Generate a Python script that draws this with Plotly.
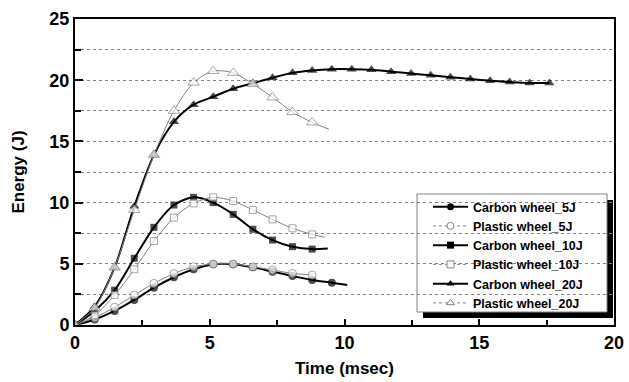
import plotly.graph_objects as go

# ---- data (time in msec, energy in J) ----
t_c5 = [0, 0.73, 1.47, 2.2, 2.93, 3.67, 4.4, 5.13, 5.87, 6.6, 7.33, 8.07, 8.8, 9.53, 10.1]
e_c5 = [0, 0.45, 1.15, 2.05, 3.05, 3.9, 4.55, 4.96, 4.96, 4.71, 4.36, 4.0, 3.68, 3.46, 3.27]

t_p5 = [0, 0.73, 1.47, 2.2, 2.93, 3.67, 4.4, 5.13, 5.87, 6.6, 7.33, 8.07, 8.8]
e_p5 = [0, 0.6, 1.45, 2.45, 3.4, 4.2, 4.76, 4.98, 4.98, 4.76, 4.49, 4.22, 4.08]

t_c10 = [0, 0.73, 1.47, 2.2, 2.93, 3.67, 4.4, 5.13, 5.87, 6.6, 7.33, 8.07, 8.8, 9.38]
e_c10 = [0, 1.15, 2.85, 5.45, 7.98, 9.8, 10.43, 10.0, 9.04, 7.82, 6.94, 6.4, 6.2, 6.25]

t_p10 = [0, 0.73, 1.47, 2.2, 2.93, 3.67, 4.4, 5.13, 5.87, 6.6, 7.33, 8.07, 8.8, 9.26]
e_p10 = [0, 0.8, 2.45, 4.55, 6.86, 8.77, 9.94, 10.43, 10.13, 9.4, 8.63, 7.9, 7.4, 7.16]

t_c20 = [0, 0.73, 1.47, 2.2, 2.93, 3.67, 4.4, 5.13, 5.87, 6.6, 7.33, 8.07, 8.8, 9.53,
         10.27, 11.0, 11.73, 12.47, 13.2, 13.93, 14.67, 15.4, 16.13, 16.87, 17.6]
e_c20 = [0, 1.5, 4.7, 9.7, 13.9, 16.6, 18.0, 18.65, 19.3, 19.75, 20.2, 20.6, 20.8, 20.9,
         20.9, 20.85, 20.7, 20.55, 20.4, 20.25, 20.1, 19.95, 19.85, 19.77, 19.77]

t_p20 = [0, 0.73, 1.47, 2.2, 2.93, 3.67, 4.4, 5.13, 5.87, 6.6, 7.33, 8.07, 8.8, 9.42]
e_p20 = [0, 1.4, 4.7, 9.4, 13.9, 17.5, 19.8, 20.75, 20.6, 19.7, 18.6, 17.4, 16.55, 16.0]

names = ["Carbon wheel_5J", "Plastic wheel_5J", "Carbon wheel_10J",
         "Plastic wheel_10J", "Carbon wheel_20J", "Plastic wheel_20J"]

x_ticks = [0, 5, 10, 15, 20]
y_ticks = [0, 5, 10, 15, 20, 25]

FONT = "Arial, 'Liberation Sans', sans-serif"
GRAY = "#808080"

# plot-area geometry in pixels (for converting the legend box to paper coords)
L, R, T, B = 75, 614, 19, 325
def px(x):
    return (x - L) / (R - L)
def py(y):
    return (B - y) / (B - T)

series = [
    (t_c5, e_c5, "circle", True, 8, [True] * 14 + [False]),
    (t_p5, e_p5, "circle", False, 8, [True] * 13),
    (t_c10, e_c10, "square", True, 7, [True] * 13 + [False]),
    (t_p10, e_p10, "square", False, 7, [True] * 13 + [False]),
    (t_c20, e_c20, "triangle-up", True, 9, [True] * 25),
    (t_p20, e_p20, "triangle-up", False, 10, [True] * 13 + [False]),
]

fig = go.Figure()

for (tx, ey, sym, carbon, ms, show), name in zip(series, names):
    sizes = [ms if s else 0 for s in show]
    if carbon:
        line = dict(color="black", width=2, shape="spline", smoothing=0.8)
        marker = dict(symbol=sym, size=sizes, color="black", line=dict(width=0))
    else:
        line = dict(color=GRAY, width=1, shape="spline", smoothing=0.8)
        marker = dict(symbol=sym, size=sizes, color="white", line=dict(color=GRAY, width=1))
    fig.add_trace(go.Scatter(x=tx, y=ey, mode="lines+markers", line=line,
                             marker=marker, showlegend=False, name=name))

# legend-only entries (carbon solid, plastic dotted)
for (tx, ey, sym, carbon, ms, show), name in zip(series, names):
    if carbon:
        line = dict(color="black", width=2)
        marker = dict(symbol=sym, size=7, color="black")
    else:
        line = dict(color=GRAY, width=1, dash="dot")
        marker = dict(symbol=sym, size=7, color="white", line=dict(color=GRAY, width=1))
    fig.add_trace(go.Scatter(x=[None], y=[None], mode="lines+markers", line=line,
                             marker=marker, name=name, showlegend=True))

fig.update_layout(
    width=629, height=382,
    margin=dict(l=L, r=629 - R, t=T, b=382 - B),
    paper_bgcolor="white", plot_bgcolor="white",
    font=dict(family=FONT, color="black"),
    showlegend=True,
    legend=dict(x=px(428), y=py(192), xanchor="left", yanchor="top",
                bgcolor="rgba(0,0,0,0)", borderwidth=0,
                font=dict(family=FONT, size=12.5, color="black", weight="bold"),
                tracegroupgap=0, itemwidth=35),
    shapes=[
        dict(type="rect", xref="paper", yref="paper",
             x0=px(423), x1=px(613), y0=py(318), y1=py(200),
             fillcolor="black", line=dict(width=0), layer="between"),
        dict(type="rect", xref="paper", yref="paper",
             x0=px(417), x1=px(607), y0=py(312), y1=py(194),
             fillcolor="white", line=dict(color=GRAY, width=1), layer="between"),
    ],
)

fig.update_xaxes(
    range=[0, 20], tickvals=x_ticks, ticktext=[str(v) for v in x_ticks],
    ticks="inside", ticklen=6, tickwidth=2, tickcolor="black",
    minor=dict(dtick=2.5, ticks="inside", ticklen=5, tickwidth=1.5, tickcolor="black"),
    showline=True, linewidth=2, linecolor="black", mirror=True,
    showgrid=False, zeroline=False, automargin=False,
    tickfont=dict(family=FONT, size=18, weight="bold"),
    title=dict(text="Time (msec)", font=dict(family=FONT, size=17, weight="bold"), standoff=11),
)
fig.update_yaxes(
    range=[0, 25], tickvals=y_ticks, ticktext=[str(v) for v in y_ticks],
    ticks="inside", ticklen=8, tickwidth=2, tickcolor="black",
    minor=dict(dtick=2.5, ticks="inside", ticklen=6, tickwidth=1.5, tickcolor="black",
               showgrid=True, gridcolor=GRAY, griddash="dot", gridwidth=1),
    showline=True, linewidth=2, linecolor="black", mirror=True,
    showgrid=True, gridcolor=GRAY, griddash="dot", gridwidth=1, zeroline=False,
    automargin=False,
    tickfont=dict(family=FONT, size=18, weight="bold"),
    title=dict(text="Energy (J)", font=dict(family=FONT, size=17, weight="bold"), standoff=20),
)

fig.write_html("out.html")
